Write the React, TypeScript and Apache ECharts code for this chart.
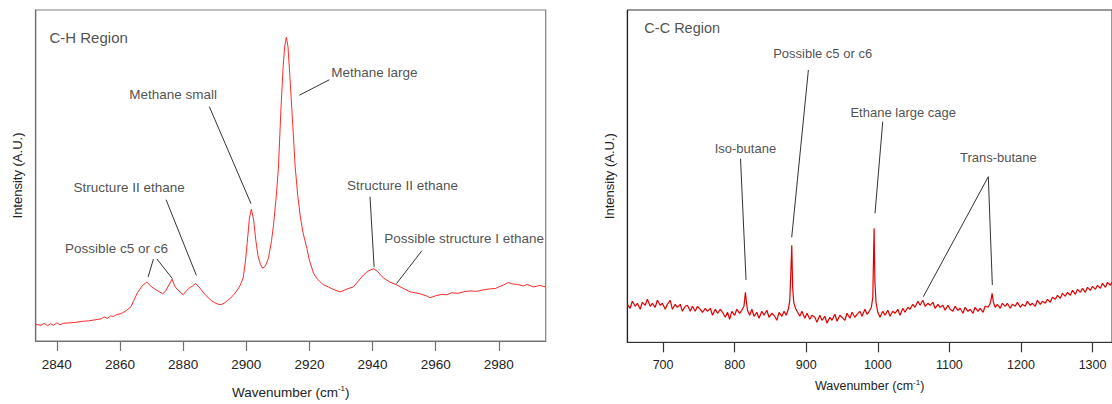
import React, { useEffect, useRef } from "react";
import * as echarts from "echarts";

const FONT = "'Liberation Sans', Arial, sans-serif";

// ---------- C-H region (left) ----------
const chTicks = [2840, 2860, 2880, 2900, 2920, 2940, 2960, 2980];
const chSpectrum: [number, number][] = [
  [2833.3, 17], [2835, 16], [2836, 18], [2837, 15.5], [2838, 17.5], [2839, 16], [2840, 18.5],
  [2841, 16.5], [2842, 18], [2844, 18.5], [2846, 19], [2848, 20], [2850, 20.5], [2852, 21.5],
  [2854, 22.5], [2855, 24.5], [2856, 23], [2857, 25.5], [2858, 25], [2859, 27], [2860, 27.5],
  [2861, 29], [2862, 31], [2863.5, 35], [2864.5, 42], [2865.5, 49], [2867, 56], [2868.5, 60],
  [2870, 55], [2871, 53], [2872, 51], [2873.5, 48], [2874.5, 51], [2875.5, 57], [2876.5, 63],
  [2877.3, 56], [2878, 53], [2879, 50], [2880, 47], [2881, 51], [2882, 54], [2883, 56],
  [2884, 58.5], [2885, 55], [2886, 51], [2887, 47], [2888, 44], [2889, 41], [2890, 39],
  [2891, 37.5], [2892, 37], [2893, 38.5], [2894, 41], [2895, 43.5], [2896, 47], [2897, 51],
  [2898, 56], [2899, 64], [2899.7, 80], [2900.3, 100], [2901, 125], [2901.6, 134], [2902.3, 124],
  [2903, 103], [2903.7, 87], [2904.5, 78], [2905.2, 74], [2906, 76], [2907, 84], [2908, 102],
  [2908.6, 117], [2909.5, 147], [2910.2, 177], [2911, 237], [2911.7, 280], [2912.2, 300],
  [2912.7, 309], [2913.2, 300], [2913.8, 270], [2914.6, 227], [2915.5, 177], [2916.3, 148],
  [2917.1, 127], [2918, 110], [2919.2, 94], [2920, 82], [2921.3, 69], [2922.5, 63], [2924.5, 57],
  [2926, 55], [2927.5, 52.5], [2929.7, 50], [2931, 51.5], [2932, 53], [2933.9, 55], [2935.5, 61],
  [2937.1, 67], [2938.5, 71], [2940.3, 73.5], [2941.5, 71], [2943.5, 64], [2945.5, 60],
  [2947.7, 57], [2950, 53], [2951.9, 50], [2953.5, 49], [2955, 48], [2957, 46], [2958.2, 44],
  [2960, 46], [2962, 47.5], [2963.5, 47], [2965, 49], [2967, 48.5], [2968.8, 50], [2971, 51],
  [2973, 50.5], [2975, 52], [2977.2, 53], [2979, 53.5], [2980, 55], [2981.5, 57], [2983, 59.5],
  [2984.5, 58], [2986, 57.5], [2987.8, 56], [2989, 57.5], [2991, 55], [2993, 56.5], [2994.8, 55],
];
const chAnnotations = [
  { name: "Methane large", at: [2940.6, 272.7] },
  { name: "Methane small", at: [2876.8, 250.7] },
  { name: "Structure II ethane", at: [2862.9, 155.7] },
  { name: "Possible c5 or c6", at: [2858.9, 94.4] },
  { name: "Structure II ethane", at: [2949.5, 157.7] },
  { name: "Possible structure I ethane", at: [2969.0, 104.4] },
];
const chLeaders: number[][][] = [
  [[2926.3, 265.7], [2916.8, 250]],
  [[2888.3, 238.4], [2901.5, 139.7]],
  [[2874.6, 143.7], [2884.2, 66.7]],
  [[2870.6, 83.4], [2868.9, 65]],
  [[2871.7, 83.4], [2876.6, 63.4]],
  [[2939.2, 146.7], [2940.5, 75]],
  [[2955.6, 91.7], [2947.6, 58.4]],
];
const chTitle = { name: "C-H Region", at: [2837.5, 309] };

// ---------- C-C region (right) ----------
const ccTicks = [700, 800, 900, 1000, 1100, 1200, 1300];
const ccSpectrum: [number, number][] = [
  [650, 38], [654, 34], [657, 41], [661, 36], [664, 39], [668, 33], [671, 40], [675, 37], [678, 43],
  [682, 36], [685, 39], [689, 35], [692, 42], [696, 37], [699, 39], [703, 33], [706, 38], [710, 42],
  [713, 33], [717, 38], [720, 35], [724, 38], [727, 31], [731, 36], [734, 37], [738, 31], [741, 36],
  [745, 31], [748, 36], [752, 33], [755, 30], [759, 34], [762, 31], [766, 34], [769, 27], [773, 33],
  [776, 29], [780, 33], [783, 30], [787, 25], [790, 30], [793, 23], [796, 31], [800, 27], [803, 33],
  [807, 29], [810, 32], [813, 36], [815, 50], [816.5, 40], [818, 32], [821, 27], [824, 33], [827, 26],
  [831, 30], [834, 24], [838, 31], [841, 27], [845, 32], [848, 25], [852, 29], [855, 27], [859, 22],
  [862, 30], [866, 26], [869, 31], [872, 27], [875, 33], [877, 42], [878.5, 70], [879.8, 97],
  [881, 55], [882.6, 40], [885, 34], [888, 30], [891, 26], [894, 31], [898, 24], [901, 29], [905, 23],
  [908, 27], [912, 25], [915, 20], [919, 27], [922, 22], [926, 26], [929, 19], [933, 25], [936, 22],
  [940, 28], [943, 21], [947, 27], [950, 25], [954, 22], [957, 29], [961, 24], [964, 30], [968, 25],
  [971, 28], [975, 31], [978, 26], [982, 33], [985, 28], [988, 31], [991, 35], [993, 45],
  [994.8, 114], [996, 60], [997.5, 40], [1000, 30], [1003, 25], [1007, 31], [1010, 27], [1014, 32],
  [1017, 26], [1021, 31], [1024, 29], [1028, 33], [1031, 27], [1035, 34], [1038, 30], [1042, 35],
  [1045, 33], [1049, 38], [1052, 35], [1056, 41], [1059, 37], [1063, 42], [1066, 36], [1070, 39],
  [1073, 37], [1077, 40], [1080, 34], [1084, 38], [1087, 35], [1091, 37], [1094, 32], [1098, 37],
  [1101, 33], [1105, 31], [1108, 36], [1112, 32], [1115, 34], [1119, 29], [1122, 35], [1126, 31],
  [1129, 33], [1133, 29], [1136, 35], [1140, 31], [1143, 34], [1147, 30], [1150, 36], [1154, 35],
  [1156.5, 38], [1158, 42], [1159.7, 49], [1161.5, 40], [1164, 35], [1167, 38], [1171, 34],
  [1174, 39], [1178, 36], [1181, 39], [1185, 34], [1188, 38], [1192, 36], [1195, 40], [1199, 35],
  [1202, 38], [1206, 36], [1209, 41], [1213, 37], [1216, 39], [1220, 36], [1223, 42], [1227, 38],
  [1230, 41], [1234, 39], [1237, 43], [1241, 40], [1244, 45], [1248, 43], [1251, 47], [1255, 44],
  [1258, 49], [1262, 46], [1265, 50], [1269, 47], [1272, 52], [1276, 48], [1279, 53], [1283, 50],
  [1286, 54], [1290, 50], [1293, 55], [1297, 52], [1300, 56], [1304, 53], [1307, 57], [1311, 54],
  [1314, 59], [1318, 55], [1321, 60], [1325, 57], [1327, 60],
];
const ccAnnotations = [
  { name: "Possible c5 or c6", at: [922.9, 289] },
  { name: "Ethane large cage", at: [1035.5, 230] },
  { name: "Iso-butane", at: [815, 194] },
  { name: "Trans-butane", at: [1168.4, 185] },
];
const ccLeaders: number[][][] = [
  [[903, 272.3], [879.7, 105]],
  [[1006.9, 220.6], [996.1, 129]],
  [[808.2, 183.6], [815.9, 62.3]],
  [[1154.4, 165.6], [1160, 57.3]],
  [[1154.4, 165.6], [1063.6, 45.6]],
];
const ccTitle = { name: "C-C Region", at: [673.1, 314.6] };

const xName = "Wavenumber (cm{sup|-1})";
const yName = "Intensity (A.U.)";

export default function App() {
  const ref = useRef<HTMLDivElement>(null);
  useEffect(() => {
    if (!ref.current) return;
    const chart = echarts.init(ref.current, undefined, { renderer: "svg" });

    const xAxisCommon = (idx: number, min: number, max: number, ticks: number[], col: string, fs: number, gap: number) => ({
      type: "value",
      gridIndex: idx,
      min,
      max,
      splitLine: { show: false },
      axisLine: { show: true, onZero: false, lineStyle: { color: col, width: 1.2 } },
      axisTick: { show: true, inside: false, length: 10, customValues: ticks, lineStyle: { color: col, width: 1.2 } },
      axisLabel: {
        show: true,
        customValues: ticks,
        formatter: (v: number) => String(v),
        margin: 16,
        color: "#222",
        fontSize: fs,
        fontFamily: FONT,
      },
      name: xName,
      nameLocation: "middle",
      nameGap: gap,
      nameTextStyle: {
        color: "#222",
        fontSize: fs,
        fontFamily: FONT,
        rich: { sup: { fontSize: 8, fontFamily: FONT, color: "#222", verticalAlign: "top", padding: [0, 0, 8, 0] } },
      },
    });
    const yAxisCommon = (idx: number, max: number, col: string, gap: number) => ({
      type: "value",
      gridIndex: idx,
      min: 0,
      max,
      splitLine: { show: false },
      axisLine: { show: true, onZero: false, lineStyle: { color: col, width: 1.2 } },
      axisTick: { show: false },
      axisLabel: { show: false },
      name: yName,
      nameLocation: "middle",
      nameRotate: 90,
      nameGap: gap,
      nameTextStyle: { color: "#222", fontSize: 13, fontFamily: FONT },
    });

    const labelSeries = (idx: number, items: { name: string; at: number[] }[], fs: number) => ({
      type: "scatter",
      xAxisIndex: idx,
      yAxisIndex: idx,
      symbolSize: 1,
      silent: true,
      itemStyle: { color: "rgba(0,0,0,0)" },
      label: { show: true, position: "inside", formatter: "{b}", color: "#222", fontSize: fs, fontFamily: FONT },
      data: items.map((a) => ({ name: a.name, value: a.at })),
      z: 5,
    });
    const titleSeries = (idx: number, item: { name: string; at: number[] }, fs: number) => ({
      type: "scatter",
      xAxisIndex: idx,
      yAxisIndex: idx,
      symbolSize: 1,
      silent: true,
      itemStyle: { color: "rgba(0,0,0,0)" },
      label: { show: true, position: "right", distance: 0, formatter: "{b}", color: "#222", fontSize: fs, fontFamily: FONT },
      data: [{ name: item.name, value: item.at }],
      z: 5,
    });
    const leaderSeries = (idx: number, segs: number[][][]) => ({
      type: "lines",
      coordinateSystem: "cartesian2d",
      xAxisIndex: idx,
      yAxisIndex: idx,
      silent: true,
      lineStyle: { color: "#333", width: 1, opacity: 1, curveness: 0 },
      data: segs.map((s) => ({ coords: s })),
      z: 4,
    });

    chart.setOption({
      animation: false,
      backgroundColor: "#fff",
      grid: [
        { left: 35.7, top: 10, width: 510, height: 336.7, show: true, borderColor: "#808080", borderWidth: 1.2 },
        { left: 627.3, top: 10, width: 484.7, height: 332.3, show: true, borderColor: "#333", borderWidth: 1 },
      ],
      xAxis: [
        xAxisCommon(0, 2833.3, 2994.85, chTicks, "#707070", 13.5, 43),
        xAxisCommon(1, 650, 1327.2, ccTicks, "#333", 12.5, 36),
      ],
      yAxis: [yAxisCommon(0, 336.7, "#707070", 12), yAxisCommon(1, 332.3, "#222", 11)],
      series: [
        {
          type: "line",
          xAxisIndex: 0,
          yAxisIndex: 0,
          data: chSpectrum,
          showSymbol: false,
          silent: true,
          lineStyle: { color: "#ff2a2a", width: 1 },
          z: 3,
        },
        leaderSeries(0, chLeaders),
        labelSeries(0, chAnnotations, 13.5),
        titleSeries(0, chTitle, 15),
        {
          type: "line",
          xAxisIndex: 1,
          yAxisIndex: 1,
          data: ccSpectrum,
          showSymbol: false,
          silent: true,
          lineStyle: { color: "#e00000", width: 1.2 },
          z: 3,
        },
        leaderSeries(1, ccLeaders),
        labelSeries(1, ccAnnotations, 13),
        titleSeries(1, ccTitle, 14.5),
      ],
    });
    return () => chart.dispose();
  }, []);

  return (
    <div
      ref={ref}
      style={{ position: "fixed", left: 0, top: 0, width: 1112, height: 404, background: "#fff" }}
    />
  );
}
